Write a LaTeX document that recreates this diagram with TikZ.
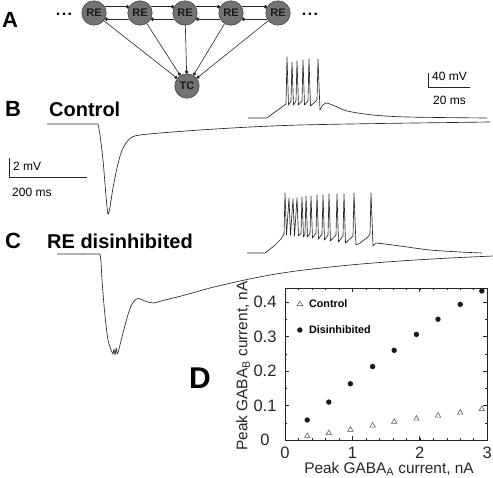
\documentclass[tikz,border=0pt]{standalone}
\usepackage{fontspec}
\setmainfont{Liberation Sans}
\usetikzlibrary{arrows.meta}
\tikzset{
  cell/.style={circle, draw=black!85, fill=black!55, minimum size=24.5pt, inner sep=0pt,
    font=\bfseries\fontsize{11}{11}\selectfont, text=black!90},
  syn/.style={-{Circle[length=3.4pt]}, black!85, line width=0.6pt},
  trace/.style={line width=0.65pt, black!85, line join=round},
  bar/.style={line width=0.7pt, black!85},
  panel/.style={font=\bfseries\fontsize{22}{22}\selectfont, inner sep=0pt},
  title/.style={font=\bfseries\fontsize{20}{20}\selectfont, inner sep=0pt},
  small/.style={font=\fontsize{12}{12}\selectfont, inner sep=0pt},
  ticklab/.style={font=\fontsize{16.5}{16.5}\selectfont, inner sep=0pt, text=black!85},
  axlab/.style={font=\fontsize{15.4}{15.4}\selectfont, inner sep=0pt, text=black!85},
  leg/.style={font=\bfseries\fontsize{10.8}{10.8}\selectfont, inner sep=0pt},
  frame/.style={line width=0.7pt, black!85},
  tri/.style={line width=0.5pt, black!70},
  ell/.style={font=\bfseries\fontsize{16}{16}\selectfont, inner sep=0pt, anchor=base},
}
\begin{document}
\begin{tikzpicture}[x=1pt,y=-1pt]
\useasboundingbox (0,0) rectangle (493,477);

% ---------- A: network ----------
\node[panel, anchor=base west] (lA) at (2,27) {A};
\foreach \i/\x in {1/94,2/140,3/185,4/231,5/278}
  \node[cell] (re\i) at (\x,13) {RE};
\node[cell] (tc) at (187,86) {TC};
\node[ell] (dl) at (64,15) {.\kern1.5pt.\kern1.5pt.};
\node[ell] (dr) at (310,15) {.\kern1.5pt.\kern1.5pt.};
\foreach \a/\b in {1/2,2/3,3/4,4/5}{
  \draw[syn] (re\a.30) -- (re\b.150);
  \draw[syn] (re\b.-150) -- (re\a.-30);
}
\foreach \i in {1,...,5}
  \draw[syn] (re\i) -- (tc);

% ---------- B: control ----------
\node[panel, anchor=base west] (lB) at (5,116) {B};
\node[title, anchor=base west] (tB) at (49,116) {Control};
\draw[trace] (47,124) -- (98,124)
  plot[smooth, tension=0.45] coordinates {(98,124) (100,135) (103,160) (106,196) (108,214)
   (110,207) (113,188) (117,168) (121,153) (126,143) (132,137) (140,135) (160,133)
   (200,130) (250,127) (300,125) (380,123.5) (490,122)};
\draw[trace] plot coordinates {(248,118) (267,118) (275,112) (282,107) (286,104)
  (287,57) (288.5,105) (291,101) (292,62) (293.5,105) (296,101) (297,61) (298.5,105)
  (302,101) (303,60) (304.5,105) (308,101) (309,59) (310.5,106) (317,100) (318,59)
  (320,110) (322,106)}
  plot[smooth, tension=0.5] coordinates {(322,106) (326,103) (335,106) (347,111) (373,115) (407,117) (487,118)};
% scale bars
\draw[bar] (428,73) -- (428,87) -- (470,87);
\node[small, anchor=west] (s40) at (432,76) {40 mV};
\node[small, anchor=west] (s20) at (433,100) {20 ms};
\draw[bar] (9,158) -- (9,177) -- (87,177);
\node[small, anchor=west] (s2) at (13,166) {2 mV};
\node[small, anchor=west] (s200) at (12,192) {200 ms};

% ---------- C: RE disinhibited ----------
\node[panel, anchor=base west] (lC) at (5,248) {C};
\node[title, anchor=base west] (tC) at (47,248) {RE disinhibited};
\draw[trace] (57,254) -- (100,254)
  plot[smooth, tension=0.4] coordinates {(100,254) (101,262) (102,280) (104,305) (106,325)
   (108,340) (111,350) (113,354)}
  -- (114,349) -- (115,355) -- (116.2,348) -- (117.3,354) -- (118.5,351)
  plot[smooth, tension=0.45] coordinates {(118.5,351) (120,345) (123,333) (127,318) (131,306)
   (135,300) (139,298.5) (145,301) (153,303) (165,300) (185,295) (210,288) (240,281)
   (270,275) (300,270.5) (350,265) (400,261) (450,258) (493,256)};
\draw[trace] plot coordinates {(247,253) (265,253) (274,246) (281,239) (284,234)
  (285,193) (286.5,235) (289,198) (290.5,235) (293,199) (294.5,236) (297,198) (298.5,236)
  (301,233) (302,197) (303.5,237) (305,234) (306,196) (307.5,237) (310,233) (311,196)
  (312.5,238) (316,233) (317,195) (318.5,239) (322,234) (323,195) (324.5,240) (328,235)
  (329,194) (330.5,241) (336,235) (337,194) (338.5,242) (343,236) (344,194) (345.5,243)
  (353,236) (354,193) (356,245) (360,243) (368,237) (370,234) (371,193) (373,246) (376,243)}
  plot[smooth, tension=0.5] coordinates {(376,243) (385,244) (400,246) (430,250) (460,252) (482,253)};

% ---------- D: scatter plot ----------
\node[panel, anchor=center, font=\bfseries\fontsize{30}{30}\selectfont] (lD) at (200,378) {D};
\begin{scope}[shift={(285,440)}, x=67.4pt, y=345pt]
  \draw[frame] (0,0) rectangle (3,0.4406);
  \foreach \t in {0.2,0.4,...,2.81}{
    \draw[frame, line width=0.5pt] (\t,0) -- ++(0,2pt);
    \draw[frame, line width=0.5pt] (\t,0.4406) -- ++(0,-2pt);
  }
  \foreach \t in {1,2}{
    \draw[frame] (\t,0) -- ++(0,4pt);
    \draw[frame] (\t,0.4406) -- ++(0,-4pt);
  }
  \foreach \t in {0.05,0.15,0.25,0.35}{
    \draw[frame, line width=0.5pt] (0,\t) -- ++(2pt,0);
    \draw[frame, line width=0.5pt] (3,\t) -- ++(-2pt,0);
  }
  \foreach \t in {0.1,0.2,0.3,0.4}{
    \draw[frame] (0,\t) -- ++(4pt,0);
    \draw[frame] (3,\t) -- ++(-4pt,0);
  }
  \foreach \t in {0,1,2,3}
    \node[ticklab] (xt\t) at ([yshift=-13pt]\t,0) {\t};
  \foreach \t/\lab in {0/0,0.1/0.1,0.2/0.2,0.3/0.3,0.4/0.4}
    \node[ticklab] (yt\lab) at ([xshift=-20pt]0,\t) {\lab};
  % data
  \foreach \px/\py in {0.33/0.058,0.65/0.11,0.97/0.163,1.3/0.213,1.62/0.26,1.95/0.306,2.27/0.35,2.6/0.393,2.92/0.432}
    \fill[black!90] (\px,\py) circle (2.7pt);
  \foreach \px/\py in {0.33/0.012,0.65/0.02,0.97/0.03,1.3/0.042,1.62/0.053,1.95/0.062,2.27/0.071,2.6/0.08,2.92/0.09}
    \draw[tri] (\px,\py) ++(0,3pt) -- ++(-2.7pt,-4.6pt) -- ++(5.4pt,0) -- cycle;
  % legend
  \draw[tri] (0.22,0.3942) ++(0,3pt) -- ++(-2.7pt,-4.6pt) -- ++(5.4pt,0) -- cycle;
  \node[leg, anchor=west] (lg1) at ([xshift=9pt]0.22,0.3942) {Control};
  \fill[black!90] (0.22,0.3188) circle (2.7pt);
  \node[leg, anchor=west] (lg2) at ([xshift=9pt]0.22,0.3188) {Disinhibited};
\end{scope}
\node[axlab] (xl) at (389,469) {Peak GABA\textsubscript{A} current, nA};
\node[axlab, rotate=90] (yl) at (243,366) {Peak GABA\textsubscript{B} current, nA};
\end{tikzpicture}
\end{document}
